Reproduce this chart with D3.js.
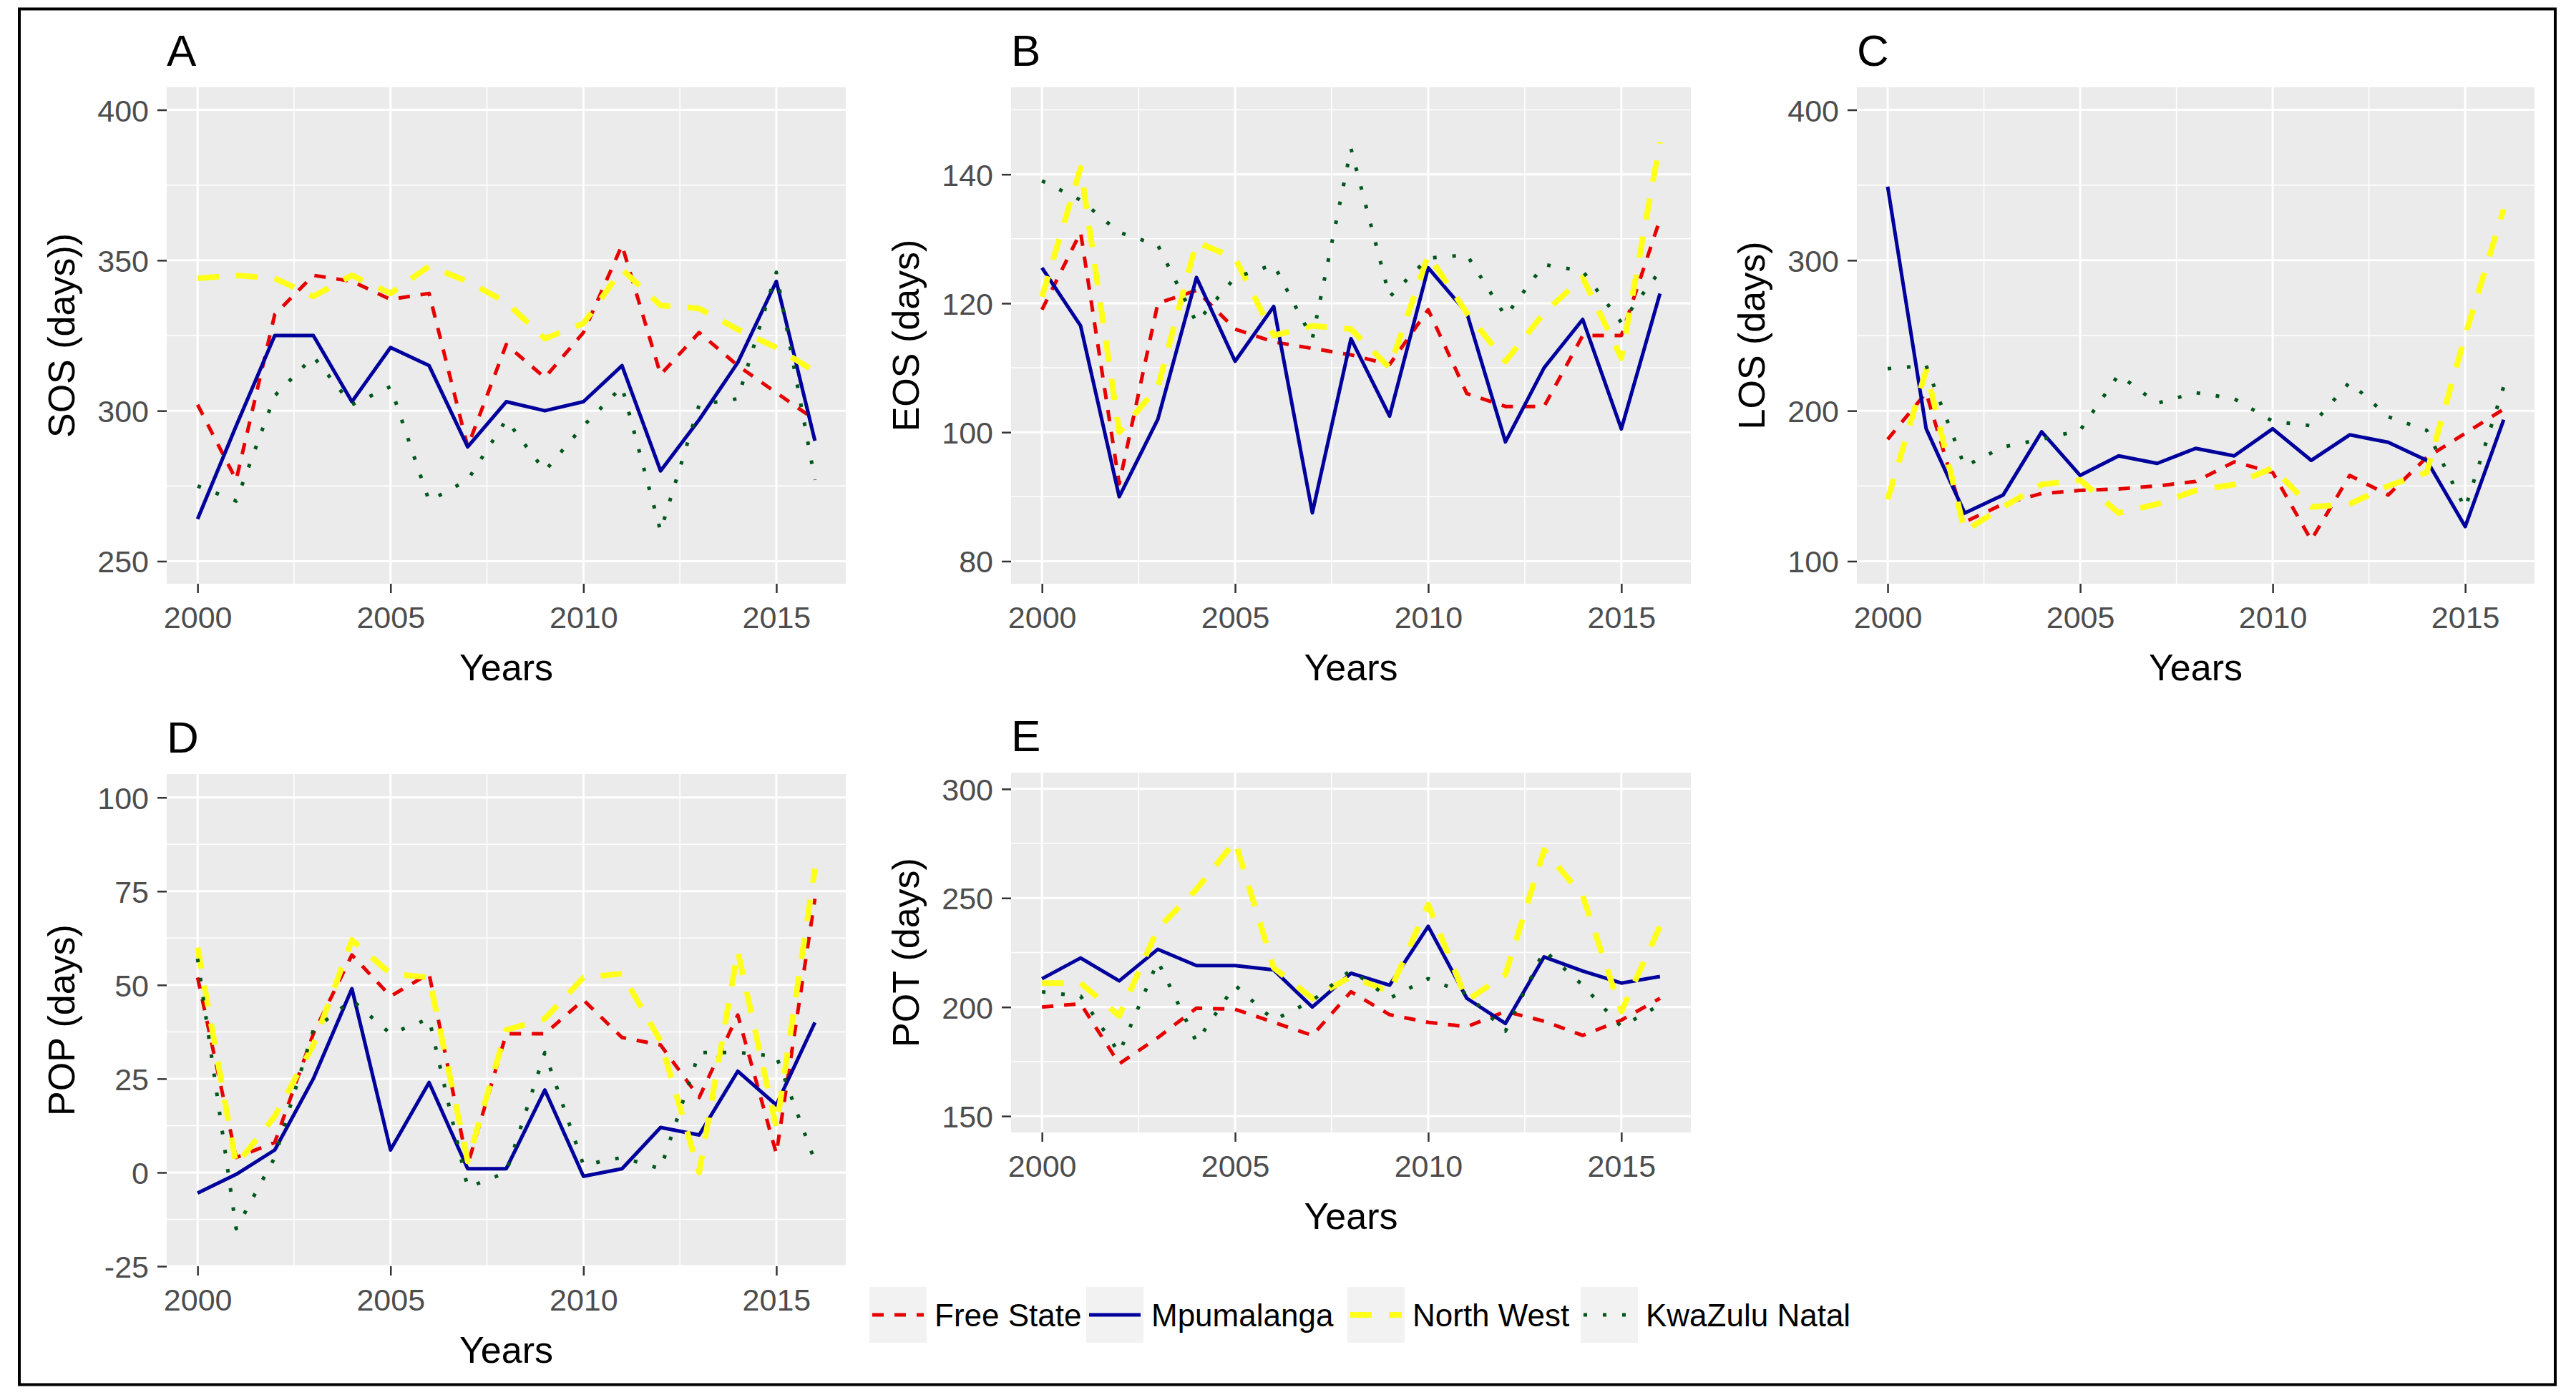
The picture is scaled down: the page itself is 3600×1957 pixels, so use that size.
<!DOCTYPE html>
<meta charset="utf-8">
<style>

body { margin: 0; background: #fff; }

text {
  font-family: "Liberation Sans", Arial, sans-serif;
}

.tick text {
  font-size: 43px;
  fill: #4d4d4d;
}

.tick line {
  stroke: #333;
  stroke-width: 2.5;
}

.domain { display: none; }

.grid-major { stroke: #fff; stroke-width: 3; }
.grid-minor { stroke: #fff; stroke-width: 1.5; }

.axis-title { font-size: 52px; fill: #000; }
.tag { font-size: 62px; fill: #000; }
.legend text { font-size: 44px; fill: #000; }

</style>
<svg width="3600" height="1957"></svg>
<script src="https://d3js.org/d3.v7.min.js"></script>
<script>

var years = [2000, 2001, 2002, 2003, 2004, 2005, 2006, 2007, 2008,
             2009, 2010, 2011, 2012, 2013, 2014, 2015, 2016];
var yearTicks = [2000, 2005, 2010, 2015];

var regions = ["Free State", "Mpumalanga", "North West", "KwaZulu Natal"];

// series in the order of regions
var sos = [
  [302, 277, 332, 345, 343, 337, 339, 288, 322, 311, 326, 355, 312, 326, 315, 306, 297],
  [264, 295, 325, 325, 303, 321, 315, 288, 303, 300, 303, 315, 280, 297, 316, 343, 290],
  [344, 345, 344, 338, 345, 339, 348, 343, 336, 324, 329, 347, 335, 334, 327, 321, 313],
  [275, 270, 305, 318, 302, 308, 270, 277, 297, 280, 295, 308, 260, 302, 304, 346, 277]
];
var eos = [
  [119, 131, 92, 120, 122, 116, 114, 113, 112, 110.5, 119, 106, 104, 104, 115, 115, 133],
  [125.5, 116.5, 90, 102, 124, 111, 119.5, 87.5, 114.5, 102.5, 125.5, 118.5, 98.5, 110, 117.5, 100.5, 121.5],
  [121, 141, 100, 107, 129.5, 127, 115, 116.5, 116, 110, 127.5, 118.5, 111, 118.5, 124, 111.5, 145],
  [139, 136, 131, 129, 117, 124, 126, 114.5, 144, 121, 127, 127.5, 118, 126, 125, 117, 125]
];
var los = [
  [181, 212, 126, 138, 145, 147, 148, 150, 153, 166, 159, 114, 157, 144, 169, 185, 201],
  [349, 188, 132, 144, 186, 157, 170, 165, 175, 170, 188, 167, 184, 179, 167, 123, 194],
  [141, 227, 120, 136, 151, 154, 132, 138, 147, 151, 162, 136, 138, 150, 159, 250, 334],
  [228, 230, 163, 176, 181, 187, 224, 205, 212, 208, 193, 190, 219, 196, 187, 135, 216]
];
var pop = [
  [52, 4, 8, 37, 58, 47, 53, 2, 37, 37, 46, 36, 34, 20, 42, 5, 73],
  [-5.5, -0.5, 6, 25, 49, 6, 24, 1, 1, 22, -1, 1, 12, 10, 27, 18, 40],
  [60, 2, 15, 34, 62, 53, 52, 3, 38, 41, 52, 53, 35, 0, 59, 12, 81],
  [57, -15, 4, 38, 46, 37, 41, -4, 0, 32, 2, 4, 1, 32, 32, 31, 3]
];
var pot = [
  [200, 201.5, 174, 186, 199.5, 199, 193, 187, 207, 196.5, 193, 191, 198, 193.5, 187, 194, 204],
  [213, 222.5, 212, 226.5, 219, 219, 217, 200, 215.5, 210, 237, 204, 192.5, 223, 216.5, 211, 214],
  [211, 211, 196, 236, 254, 276, 218, 204, 214, 207, 247, 203, 215, 272, 251, 198, 237],
  [207, 205, 179, 221, 184, 210, 194, 203, 217, 204, 213, 206, 189, 226, 210, 191, 201]
];

var sosTicks = [250, 300, 350, 400];
var eosTicks = [80, 100, 120, 140];
var losTicks = [100, 200, 300, 400];
var popTicks = [-25, 0, 25, 50, 75, 100];
var potTicks = [150, 200, 250, 300];

// line styles per region
var colors = ["#e60000", "#00009c", "#ffff1a", "#00561b"];
var dashes = ["16,15", null, "30,24", "5,22"];
var widths = [5, 5, 8, 5];

var panels = [
  {tag: "A", title: "SOS (days))", values: sos, ticks: sosTicks, limits: [250, 400], pad: [7.5, 7.5],
   left: 233, top: 122, right: 1182, bottom: 816},
  {tag: "B", title: "EOS (days)", values: eos, ticks: eosTicks, limits: [80, 150], pad: [3.5, 3.5],
   left: 1413, top: 122, right: 2363, bottom: 816},
  {tag: "C", title: "LOS (days)", values: los, ticks: losTicks, limits: [100, 400], pad: [15, 15],
   left: 2595, top: 122, right: 3542, bottom: 816},
  {tag: "D", title: "POP (days)", values: pop, ticks: popTicks, limits: [-25, 100], pad: [0, 6.25],
   left: 233, top: 1082, right: 1182, bottom: 1770},
  {tag: "E", title: "POT (days)", values: pot, ticks: potTicks, limits: [150, 300], pad: [7.5, 7.5],
   left: 1413, top: 1080, right: 2363, bottom: 1583}
];

var svg = d3.select("svg");

svg.append("rect")
    .attr("x", 27).attr("y", 12.5)
    .attr("width", 3544).attr("height", 1923)
    .attr("fill", "#fff")
    .attr("stroke", "#000")
    .attr("stroke-width", 4);

panels.forEach(function(p) {
  var x = d3.scaleLinear()
      .domain([years[0] - 0.8, years[years.length - 1] + 0.8])
      .range([p.left, p.right]);
  var y = d3.scaleLinear()
      .domain([p.limits[0] - p.pad[0], p.limits[1] + p.pad[1]])
      .range([p.bottom, p.top]);

  var g = svg.append("g");

  g.append("rect")
      .attr("x", p.left).attr("y", p.top)
      .attr("width", p.right - p.left).attr("height", p.bottom - p.top)
      .attr("fill", "#ebebeb");

  // minor grid: halfway between major breaks
  var step = p.ticks[1] - p.ticks[0];
  var yMinor = [p.ticks[0] - step / 2].concat(p.ticks.map(function(t) { return t + step / 2; }))
      .filter(function(v) { return v >= y.domain()[0] && v <= y.domain()[1]; });
  var xMinor = [yearTicks[0] - 2.5].concat(yearTicks.map(function(t) { return t + 2.5; }))
      .filter(function(v) { return v >= x.domain()[0] && v <= x.domain()[1]; });

  g.selectAll(".ym").data(yMinor).join("line")
      .attr("class", "grid-minor")
      .attr("x1", p.left).attr("x2", p.right)
      .attr("y1", y).attr("y2", y);
  g.selectAll(".xm").data(xMinor).join("line")
      .attr("class", "grid-minor")
      .attr("y1", p.top).attr("y2", p.bottom)
      .attr("x1", x).attr("x2", x);
  g.selectAll(".yM").data(p.ticks).join("line")
      .attr("class", "grid-major")
      .attr("x1", p.left).attr("x2", p.right)
      .attr("y1", y).attr("y2", y);
  g.selectAll(".xM").data(yearTicks).join("line")
      .attr("class", "grid-major")
      .attr("y1", p.top).attr("y2", p.bottom)
      .attr("x1", x).attr("x2", x);

  var line = d3.line()
      .x(function(d, i) { return x(years[i]); })
      .y(function(d) { return y(d); });

  p.values.forEach(function(series, k) {
    g.append("path")
        .datum(series)
        .attr("fill", "none")
        .attr("stroke", colors[k])
        .attr("stroke-width", widths[k])
        .attr("stroke-dasharray", dashes[k])
        .attr("stroke-linejoin", "round")
        .attr("d", line);
  });

  g.append("g")
      .attr("transform", "translate(0," + p.bottom + ")")
      .call(d3.axisBottom(x).tickValues(yearTicks).tickFormat(d3.format("d"))
        .tickSize(13).tickPadding(18));

  // plain hyphen for negatives, as in the original
  g.append("g")
      .attr("transform", "translate(" + p.left + ",0)")
      .call(d3.axisLeft(y).tickValues(p.ticks).tickFormat(function(d) { return String(d); })
        .tickSize(13).tickPadding(12))
      .selectAll("text").attr("dy", "0.36em");

  g.append("text")
      .attr("class", "axis-title")
      .attr("x", (p.left + p.right) / 2)
      .attr("y", p.bottom + 135)
      .attr("text-anchor", "middle")
      .text("Years");

  g.append("text")
      .attr("class", "axis-title")
      .attr("transform", "translate(" + (p.left - 148) + "," + ((p.top + p.bottom) / 2) + ") rotate(-90)")
      .attr("text-anchor", "middle")
      .attr("dy", "0.36em")
      .text(p.title);

  g.append("text")
      .attr("class", "tag")
      .attr("x", p.left)
      .attr("y", p.top - 30)
      .text(p.tag);
});

// legend
var keyX = [1215, 1518, 1883, 2209];
var legend = svg.append("g").attr("class", "legend");

regions.forEach(function(name, k) {
  var item = legend.append("g").attr("transform", "translate(" + keyX[k] + ",1799)");
  item.append("rect")
      .attr("width", 80).attr("height", 78)
      .attr("fill", "#f2f2f2");
  item.append("line")
      .attr("x1", 4).attr("x2", 76)
      .attr("y1", 39).attr("y2", 39)
      .attr("stroke", colors[k])
      .attr("stroke-width", widths[k])
      .attr("stroke-dasharray", dashes[k]);
  item.append("text")
      .attr("x", 91)
      .attr("y", 39)
      .attr("dy", "0.36em")
      .text(name);
});

</script>
